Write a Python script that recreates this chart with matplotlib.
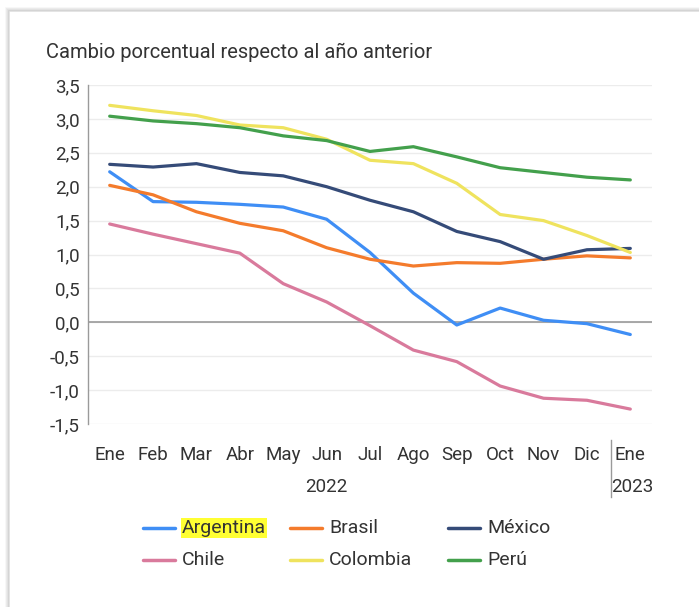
import matplotlib.pyplot as plt
from matplotlib.patches import Rectangle
from matplotlib.lines import Line2D

plt.rcParams['font.family'] = ['Roboto', 'DejaVu Sans']

months = ["Ene", "Feb", "Mar", "Abr", "May", "Jun", "Jul", "Ago", "Sep", "Oct", "Nov", "Dic", "Ene"]
countries = ["Argentina", "Brasil", "México", "Chile", "Colombia", "Perú"]
colors = ["#3f8ef5", "#f47b2c", "#354b78", "#d97a9c", "#efe35e", "#43a04c"]

argentina = [2.22, 1.78, 1.77, 1.74, 1.70, 1.52, 1.03, 0.43, -0.04, 0.21, 0.03, -0.02, -0.18]
brasil = [2.02, 1.88, 1.63, 1.46, 1.35, 1.10, 0.93, 0.83, 0.88, 0.87, 0.93, 0.98, 0.95]
mexico = [2.33, 2.29, 2.34, 2.21, 2.16, 2.00, 1.80, 1.63, 1.34, 1.19, 0.93, 1.07, 1.09]
chile = [1.45, 1.30, 1.16, 1.02, 0.57, 0.30, -0.05, -0.41, -0.58, -0.94, -1.12, -1.15, -1.28]
colombia = [3.20, 3.12, 3.05, 2.91, 2.87, 2.70, 2.39, 2.34, 2.05, 1.59, 1.50, 1.28, 1.03]
peru = [3.04, 2.97, 2.93, 2.87, 2.75, 2.68, 2.52, 2.59, 2.44, 2.28, 2.21, 2.14, 2.10]
series = [argentina, brasil, mexico, chile, colombia, peru]

yticks = [3.5, 3.0, 2.5, 2.0, 1.5, 1.0, 0.5, 0.0, -0.5, -1.0, -1.5]

W, H = 699, 607
fig = plt.figure(figsize=(W / 100, H / 100), dpi=100)

# card with soft shadow
for i, a in enumerate([0.05, 0.08, 0.12, 0.18]):
    off = 4 - i
    fig.patches.append(Rectangle(((10 - off) / W, -0.1), 2, 1 - (12 - off) / H + 0.1,
                                 transform=fig.transFigure, facecolor="none",
                                 edgecolor=(0.3, 0.3, 0.3, a), lw=1.2, zorder=-5))
fig.patches.append(Rectangle((11 / W, -0.1), 2, 1 - 13 / H + 0.1, transform=fig.transFigure,
                             facecolor="white", edgecolor="none", zorder=-4))

left, right, top, bottom = 88, 652, 85, 424
ax = fig.add_axes([left / W, 1 - bottom / H, (right - left) / W, (bottom - top) / H])
ax.set_facecolor("none")
ax.set_zorder(2)

fs = 13.5
x = list(range(len(months)))
for s, c in zip(series, colors):
    ax.plot(x, s, color=c, lw=2.3, solid_capstyle="round", zorder=3)

ax.set_xlim(-0.5, 12.5)
ax.set_ylim(-1.5, 3.5)
ax.set_yticks(yticks)
ax.set_yticklabels([f"{v:.1f}".replace(".", ",") for v in yticks], fontsize=fs, color="#333333")
ax.set_xticks(x)
ax.set_xticklabels(months, fontsize=fs, color="#333333")
ax.tick_params(axis="y", length=0, pad=6)
ax.tick_params(axis="x", length=0, pad=16)
ax.grid(axis="y", color="#ececec", lw=1)
ax.axhline(0, color="#9a9a9a", lw=1.2, zorder=2)
for sp in ["top", "right", "bottom"]:
    ax.spines[sp].set_visible(False)
ax.spines["left"].set_color("#9a9a9a")
ax.spines["left"].set_linewidth(1)

ax.text(5, -2.43, "2022", ha="center", va="center", fontsize=fs, color="#333333",
        transform=ax.transData, clip_on=False)
ax.text(12.05, -2.43, "2023", ha="center", va="center", fontsize=fs, color="#333333",
        transform=ax.transData, clip_on=False)
ax.add_line(Line2D([11.55, 11.55], [-1.73, -2.58], color="#9a9a9a", lw=1, clip_on=False))

fig.text(46 / W, 1 - 52 / H, "Cambio porcentual respecto al año anterior", fontsize=14.5,
         color="#333333", va="center", ha="left")

# legend placed by hand: 3 columns, 2 rows
col_x = [143, 290, 448]
row_y = [528, 560]
for k, (name, c) in enumerate(zip(countries, colors)):
    cx = col_x[k % 3]
    ry = row_y[k // 3]
    fig.add_artist(Line2D([cx / W, (cx + 32) / W], [1 - ry / H, 1 - ry / H], color=c, lw=2.5,
                          solid_capstyle="round"))
    t = fig.text((cx + 39) / W, 1 - ry / H, name, fontsize=14, color="#333333",
                 va="center", ha="left")
    if name == "Argentina":
        t.set_bbox(dict(facecolor="#ffff33", edgecolor="none", pad=0.5))

fig.savefig("out.png", dpi=100)
